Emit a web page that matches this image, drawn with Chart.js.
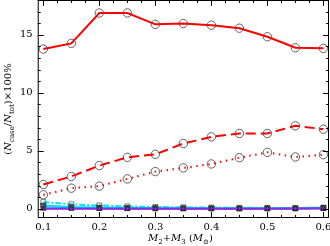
<!DOCTYPE html>
<html>
<head>
<meta charset="utf-8">
<script src="https://cdn.jsdelivr.net/npm/chart.js@4"></script>
<style>
    html, body { margin: 0; padding: 0; background: #fff; }
    #wrap { width: 330px; height: 246px; }
</style>
</head>
<body>
<div id="wrap"><canvas id="chart" aria-label="Fraction of cases versus M2+M3"></canvas></div>
<script>
const masses = [0.1, 0.15, 0.2, 0.25, 0.3, 0.35, 0.4, 0.45, 0.5, 0.55, 0.6];
const solidRed = [13.77, 14.26, 16.88, 16.88, 15.9, 15.97, 15.83, 15.57, 14.83, 13.88, 13.83];
const dashedRed = [2.09, 2.78, 3.72, 4.43, 4.69, 5.63, 6.2, 6.49, 6.49, 7.15, 6.86];
const dottedRed = [1.2, 1.77, 1.95, 2.57, 3.2, 3.52, 3.86, 4.4, 4.86, 4.46, 4.66];
const cyanDashDot = [0.57, 0.38, 0.28, 0.2, 0.15, 0.12, 0.1, 0.08, 0.07, 0.06, 0.1];
const cyanSolid = [0.25, 0.12, 0.08, 0.05, 0.04, 0.03, 0.03, 0.02, 0.03, 0.03, 0.06];
const blueSolid = [0.05, 0.03, 0.02, 0.02, 0.01, 0.01, 0.01, 0.01, 0.01, 0.02, 0.04];
const purpleSolid = [0, 0, 0, 0, 0, 0, 0, 0, 0, 0.01, 0.02];

const xTicks = [0.1, 0.2, 0.3, 0.4, 0.5, 0.6];
const xMinorStep = 0.025;
const yTicks = [0, 5, 10, 15];
const yMinorStep = 1;

const toPoints = (ys) => ys.map((y, i) => ({ x: masses[i], y }));

const serif = '"DejaVu Serif", "Liberation Serif", serif';

const makeSet = (data, color, dash, width, marker) => ({
    data: toPoints(data),
    borderColor: color,
    borderWidth: width,
    borderDash: dash,
    pointStyle: marker.style,
    pointRadius: marker.radius,
    pointBorderColor: marker.color,
    pointBorderWidth: 0.9,
    pointBackgroundColor: marker.fill || "rgba(0,0,0,0)",
    tension: 0
});

const circle = { style: "circle", radius: 4.2, color: "#505050" };

// ticks that point inward on every side, like the original figure
const frameTicks = {
    id: "frameTicks",
    afterDraw(chart) {
        const { ctx, chartArea: a, scales: { x, y } } = chart;
        ctx.save();
        ctx.strokeStyle = "#000";
        ctx.lineWidth = 1;
        ctx.strokeRect(a.left + 0.5, a.top + 0.5, a.right - a.left - 1, a.bottom - a.top - 1);
        ctx.beginPath();
        for (let v = 0.1; v <= 0.6001; v += xMinorStep) {
            const px = Math.round(x.getPixelForValue(v)) + 0.5;
            const major = xTicks.some((t) => Math.abs(t - v) < 1e-6);
            const len = major ? 6 : 3;
            ctx.moveTo(px, a.bottom); ctx.lineTo(px, a.bottom - len);
            ctx.moveTo(px, a.top); ctx.lineTo(px, a.top + len);
        }
        for (let v = 0; v <= 18; v += yMinorStep) {
            const py = Math.round(y.getPixelForValue(v)) + 0.5;
            const len = yTicks.includes(v) ? 6 : 3;
            ctx.moveTo(a.left, py); ctx.lineTo(a.left + len, py);
            ctx.moveTo(a.right, py); ctx.lineTo(a.right - len, py);
        }
        ctx.stroke();

        // axis titles with subscripts
        const drawParts = (parts, cx, cy) => {
            const widths = parts.map((p) => {
                ctx.font = p.font;
                return ctx.measureText(p.text).width;
            });
            let pos = cx - widths.reduce((s, w) => s + w, 0) / 2;
            parts.forEach((p, i) => {
                ctx.font = p.font;
                ctx.fillText(p.text, pos, cy + (p.dy || 0));
                pos += widths[i];
            });
        };
        const it = `italic 10px ${serif}`;
        const rm = `10px ${serif}`;
        const sub = `7px ${serif}`;
        ctx.fillStyle = "#000";
        ctx.textBaseline = "alphabetic";
        ctx.textAlign = "left";
        drawParts([
            { text: "M", font: it }, { text: "2", font: sub, dy: 3 },
            { text: "+", font: rm },
            { text: "M", font: it }, { text: "3", font: sub, dy: 3 },
            { text: " (", font: rm },
            { text: "M", font: it }, { text: "⊙", font: sub, dy: 3 },
            { text: ")", font: rm }
        ], (a.left + a.right) / 2 - 3, 241);
        ctx.translate(11, (a.top + a.bottom) / 2);
        ctx.rotate(-Math.PI / 2);
        drawParts([
            { text: "(", font: rm },
            { text: "N", font: it }, { text: "case", font: sub, dy: 3 },
            { text: "/", font: rm },
            { text: "N", font: it }, { text: "tot", font: sub, dy: 3 },
            { text: ")×100%", font: rm }
        ], 0, 0);
        ctx.restore();
    }
};

new Chart(document.querySelector("#chart"), {
    type: "line",
    data: {
        datasets: [
            makeSet(purpleSolid, "#8a2be2", [], 2, { style: "triangle", radius: 3, color: "#222" }),
            makeSet(blueSolid, "#3050ff", [], 1.5, { style: "crossRot", radius: 3, color: "#222" }),
            makeSet(cyanSolid, "#00d8ff", [], 2.5, { style: "rect", radius: 3.5, color: "#222", fill: "rgba(40,40,40,0.55)" }),
            makeSet(cyanDashDot, "#00e8f0", [6, 2, 2, 2], 2, { style: "rect", radius: 3.5, color: "#707070" }),
            makeSet(dottedRed, "#ff0000", [1.5, 4.5], 2, circle),
            makeSet(dashedRed, "#ff0000", [10, 5], 2, circle),
            makeSet(solidRed, "#ff0000", [], 2, circle)
        ]
    },
    options: {
        responsive: true,
        maintainAspectRatio: false,
        animation: false,
        layout: { autoPadding: false, padding: { left: 15, right: 1, top: 0, bottom: 10 } },
        plugins: { legend: { display: false }, tooltip: { enabled: false } },
        scales: {
            x: {
                type: "linear",
                min: 0.09,
                max: 0.61,
                afterBuildTicks: (scale) => { scale.ticks = xTicks.map((value) => ({ value })); },
                afterFit: (scale) => { scale.paddingLeft = 0; scale.paddingRight = 0; },
                grid: { display: false, drawTicks: false },
                border: { display: false },
                ticks: {
                    padding: 3,
                    color: "#000",
                    font: { family: serif, size: 10 },
                    maxRotation: 0,
                    callback: (v) => v.toFixed(1)
                }
            },
            y: {
                min: -0.8,
                max: 18,
                afterBuildTicks: (scale) => { scale.ticks = yTicks.map((value) => ({ value })); },
                afterFit: (scale) => { scale.paddingTop = 0; scale.paddingBottom = 0; },
                grid: { display: false, drawTicks: false },
                border: { display: false },
                ticks: {
                    padding: 5,
                    color: "#000",
                    font: { family: serif, size: 10 }
                }
            }
        }
    },
    plugins: [frameTicks]
});
</script>
</body>
</html>
